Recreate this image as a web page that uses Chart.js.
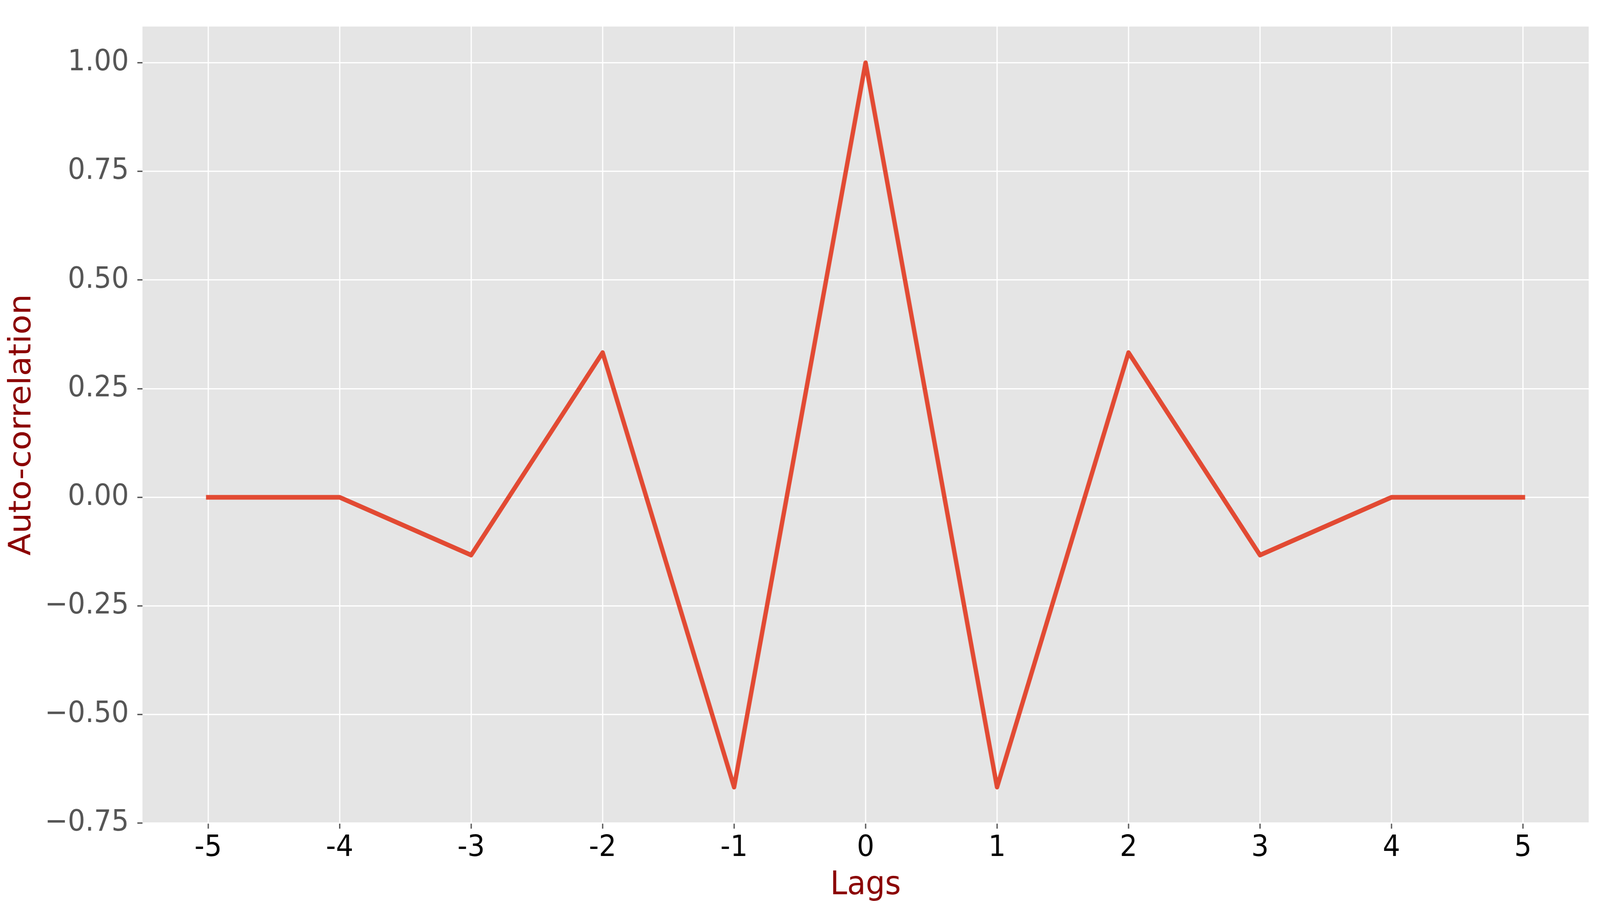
<!DOCTYPE html>
<html>
<head>
<meta charset="utf-8">
<script src="https://cdn.jsdelivr.net/npm/chart.js@4.4.1/dist/chart.umd.min.js"></script>
<style>
html, body { margin: 0; padding: 0; background: #ffffff; overflow: hidden; }
canvas { display: block; }
</style>
</head>
<body>
<!-- drawn at 4369x2338 and shown fitted to the window (the viewport may be narrower) -->
<canvas id="graficaAcf" width="4369" height="2338" style="width:100vw;height:100vh"></canvas>
<script>
// lags and the auto-correlation
const lags = [-5, -4, -3, -2, -1, 0, 1, 2, 3, 4, 5];
const autocorr = [0, 0, -0.133, 0.333, -0.667, 1, -0.667, 0.333, -0.133, 0, 0];

const xTicks = [-5, -4, -3, -2, -1, 0, 1, 2, 3, 4, 5];
const yTicks = [-0.75, -0.5, -0.25, 0, 0.25, 0.5, 0.75, 1.0];

const fondoPlot = {
  id: "fondoPlot",
  beforeDraw(chart) {
    const { ctx, chartArea: a } = chart;
    ctx.save();
    ctx.fillStyle = "#ffffff";
    ctx.fillRect(0, 0, chart.width, chart.height);
    ctx.fillStyle = "#e5e5e5";
    ctx.fillRect(a.left, a.top, a.right - a.left, a.bottom - a.top);
    ctx.restore();
  }
};

const ctx = document.getElementById("graficaAcf");

new Chart(ctx, {
  type: "line",
  data: {
    datasets: [{
      data: lags.map((l, i) => ({ x: l, y: autocorr[i] })),
      borderColor: "#e24a33",
      borderWidth: 12,
      pointRadius: 0,
      borderJoinStyle: "round",
      borderCapStyle: "square",
      tension: 0,
      fill: false
    }]
  },
  options: {
    responsive: false,
    animation: false,
    devicePixelRatio: 1,
    layout: { padding: { top: 30, right: 31, left: 0, bottom: 0 } },
    plugins: {
      legend: { display: false },
      tooltip: { enabled: false }
    },
    scales: {
      x: {
        type: "linear",
        min: -5.5,
        max: 5.5,
        afterFit(s) { s.height = 230; },
        afterBuildTicks(s) { s.ticks = xTicks.map(v => ({ value: v })); },
        border: { display: false },
        grid: {
          color: "#ffffff",
          lineWidth: 3.3,
          tickColor: "#555555",
          tickWidth: 3.5,
          tickLength: 14
        },
        ticks: {
          padding: 6,
          color: "#000000",
          font: { family: "DejaVu Sans", size: 75 },
          callback: v => String(v)
        },
        title: {
          display: true,
          text: "Lags",
          color: "#8b0000",
          font: { family: "DejaVu Sans", size: 83 },
          padding: { top: 0, bottom: 20 }
        }
      },
      y: {
        type: "linear",
        min: -0.75,
        max: 1.0833,
        afterFit(s) { s.width = 389; },
        afterBuildTicks(s) { s.ticks = yTicks.map(v => ({ value: v })); },
        border: { display: false },
        grid: {
          color: "#ffffff",
          lineWidth: 3.3,
          tickColor: "#555555",
          tickWidth: 3.5,
          tickLength: 14
        },
        ticks: {
          padding: 23,
          color: "#555555",
          font: { family: "DejaVu Sans", size: 75 },
          callback: v => (v < 0 ? "\u2212" : "") + Math.abs(v).toFixed(2)
        },
        title: {
          display: true,
          text: "Auto-correlation",
          color: "#8b0000",
          font: { family: "DejaVu Sans", size: 83 },
          padding: { top: 12, bottom: 0 }
        }
      }
    }
  },
  plugins: [fondoPlot]
});
</script>
</body>
</html>
